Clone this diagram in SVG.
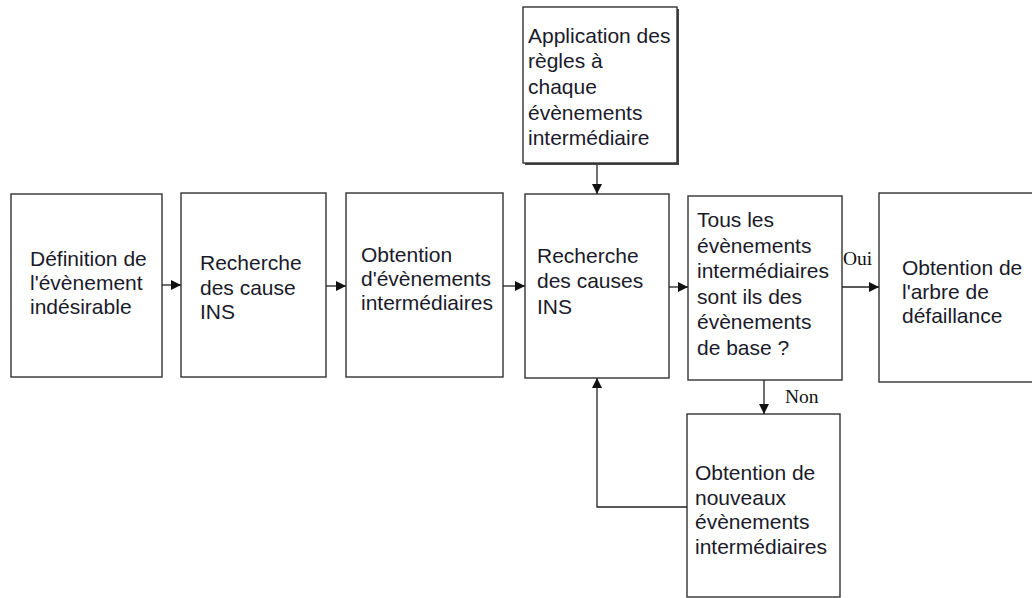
<svg xmlns="http://www.w3.org/2000/svg" width="1032" height="598" viewBox="0 0 1032 598">
<defs>
<marker id="ah" viewBox="0 0 10 10" refX="10" refY="5" markerWidth="11" markerHeight="10" markerUnits="userSpaceOnUse" orient="auto">
<path d="M0,0 L10,5 L0,10 Z" fill="#111"/>
</marker>
<style>
.box{fill:#fff;stroke:#333;stroke-width:1.4}
.t{font-family:"Liberation Sans",Arial,sans-serif;font-size:21px;fill:#1a1a2a}
.lbl{font-family:"Liberation Serif","Times New Roman",serif;font-size:19.5px;fill:#111}
.c{fill:none;stroke:#222;stroke-width:1.3}
</style>
</defs>
<rect width="1032" height="598" fill="#fff"/>
<g id="n1"><rect class="box" x="11" y="194" width="151" height="183"/>
<text class="t" x="30"><tspan x="30" y="266">Définition de</tspan><tspan x="30" y="290">l'évènement</tspan><tspan x="30" y="314">indésirable</tspan></text></g>
<g id="n2"><rect class="box" x="181" y="193" width="145" height="184"/>
<text class="t"><tspan x="200" y="270">Recherche</tspan><tspan x="200" y="295">des cause</tspan><tspan x="200" y="319">INS</tspan></text></g>
<g id="n3"><rect class="box" x="346" y="193" width="157" height="184"/>
<text class="t"><tspan x="361" y="262">Obtention</tspan><tspan x="361" y="286">d'évènements</tspan><tspan x="361" y="310">intermédiaires</tspan></text></g>
<g id="n0"><rect x="525" y="9" width="154" height="156" fill="#444"/><rect class="box" x="523" y="7" width="154" height="156"/>
<text class="t"><tspan x="528" y="43">Application des</tspan><tspan x="528" y="68">règles à</tspan><tspan x="528" y="94">chaque</tspan><tspan x="528" y="120">évènements</tspan><tspan x="528" y="145">intermédiaire</tspan></text></g>
<g id="n4"><rect class="box" x="525" y="194" width="144" height="184"/>
<text class="t"><tspan x="537" y="263">Recherche</tspan><tspan x="537" y="288">des causes</tspan><tspan x="537" y="314">INS</tspan></text></g>
<g id="n5"><rect class="box" x="688" y="196" width="154" height="184"/>
<text class="t"><tspan x="697" y="227">Tous les</tspan><tspan x="697" y="253">évènements</tspan><tspan x="697" y="278">intermédiaires</tspan><tspan x="697" y="304">sont ils des</tspan><tspan x="697" y="329">évènements</tspan><tspan x="697" y="355">de base ?</tspan></text></g>
<g id="n6"><rect class="box" x="879" y="193" width="160" height="189"/>
<text class="t"><tspan x="902" y="275">Obtention de</tspan><tspan x="902" y="299">l'arbre de</tspan><tspan x="902" y="323">défaillance</tspan></text></g>
<g id="n7"><rect class="box" x="687" y="414" width="153" height="183"/>
<text class="t"><tspan x="695" y="480">Obtention de</tspan><tspan x="695" y="505">nouveaux</tspan><tspan x="695" y="529">évènements</tspan><tspan x="695" y="554">intermédiaires</tspan></text></g>
<g id="connectors">
<line class="c" x1="162" y1="285" x2="181" y2="285" marker-end="url(#ah)"/>
<line class="c" x1="326" y1="286" x2="346" y2="286" marker-end="url(#ah)"/>
<line class="c" x1="503" y1="286" x2="525" y2="286" marker-end="url(#ah)"/>
<line class="c" x1="597" y1="165" x2="597" y2="194" marker-end="url(#ah)"/>
<line class="c" x1="669" y1="287" x2="688" y2="287" marker-end="url(#ah)"/>
<line class="c" x1="842" y1="287" x2="879" y2="287" marker-end="url(#ah)"/>
<line class="c" x1="764" y1="380" x2="764" y2="414" marker-end="url(#ah)"/>
<polyline class="c" points="687,507 597,507 597,378" marker-end="url(#ah)"/>
<text class="lbl" x="843" y="265">Oui</text>
<text class="lbl" x="785" y="403">Non</text>
</g>
</svg>
